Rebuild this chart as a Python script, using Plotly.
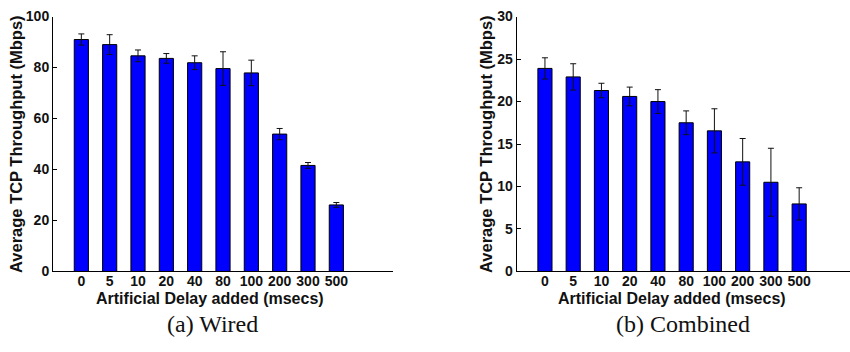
import plotly.graph_objects as go

delays = ["0", "5", "10", "20", "40", "80", "100", "200", "300", "500"]
positions = [1, 2, 3, 4, 5, 6, 7, 8, 9, 10]

wired_mean = [91.0, 89.0, 84.6, 83.6, 81.9, 79.6, 77.9, 53.9, 41.6, 26.1]
wired_err = [2.2, 3.9, 2.3, 1.9, 2.7, 6.6, 5.0, 2.2, 1.15, 0.95]

comb_mean = [23.9, 22.9, 21.3, 20.6, 20.0, 17.5, 16.55, 12.9, 10.5, 7.95]
comb_err = [1.25, 1.55, 0.85, 1.1, 1.4, 1.4, 2.6, 2.75, 4.0, 1.9]

wired_ticks = [0, 20, 40, 60, 80, 100]
comb_ticks = [0, 5, 10, 15, 20, 25, 30]

BLUE = "#0000FF"
SANS = "Liberation Sans"
SERIF = "Liberation Serif"
INK = "#111111"

fig = go.Figure()

fig.add_trace(go.Bar(
    x=positions, y=wired_mean, width=0.5,
    marker=dict(color=BLUE, line=dict(color="black", width=1)),
    error_y=dict(type="data", array=wired_err, color=INK, thickness=1, width=3),
    xaxis="x", yaxis="y", showlegend=False,
))
fig.add_trace(go.Bar(
    x=positions, y=comb_mean, width=0.5,
    marker=dict(color=BLUE, line=dict(color="black", width=1)),
    error_y=dict(type="data", array=comb_err, color=INK, thickness=1, width=3),
    xaxis="x2", yaxis="y2", showlegend=False,
))

ydom = [1 - 276 / 352, 1 - 9 / 352]
tickfont = dict(family=SANS, size=14, color=INK)
bold_delays = ["<b>%s</b>" % d for d in delays]

common_x = dict(
    tickmode="array", tickvals=positions, ticktext=bold_delays, ticks="",
    showline=True, linecolor="black", linewidth=1, showgrid=False, zeroline=False,
    tickfont=tickfont, ticklabelstandoff=-3,
)
common_y = dict(
    showline=True, linecolor="black", linewidth=1, showgrid=False, zeroline=False,
    ticks="inside", ticklen=4, tickcolor="black", tickfont=tickfont, tickmode="array",
)

fig.update_layout(
    width=850, height=352,
    margin=dict(l=0, r=0, t=0, b=0),
    paper_bgcolor="white", plot_bgcolor="white",
    xaxis=dict(domain=[53 / 850, 393 / 850], range=[0, 12], anchor="y", **common_x),
    yaxis=dict(domain=ydom, range=[0, 100], tickvals=wired_ticks,
               ticktext=["<b>%d</b>" % v for v in wired_ticks], anchor="x", **common_y),
    xaxis2=dict(domain=[516.7 / 850, 1.0], range=[0, 11.8], anchor="y2", **common_x),
    yaxis2=dict(domain=ydom, range=[0, 30], tickvals=comb_ticks,
                ticktext=["<b>%d</b>" % v for v in comb_ticks], anchor="x2", **common_y),
)

xtitle = "<b>Artificial Delay added (msecs)</b>"
ytitle = "<b>Average TCP Throughput (Mbps)</b>"
ann = []
for cx, capx, caption, yx in [(210, 212, "(a) Wired", 16), (672, 683, "(b) Combined", 486)]:
    ann.append(dict(text=xtitle, x=cx / 850, xref="paper", y=1 - 304 / 352, yref="paper",
                    showarrow=False, xanchor="center", yanchor="middle",
                    font=dict(family=SANS, size=16, color=INK)))
    ann.append(dict(text=ytitle, x=yx / 850, xref="paper", y=(ydom[0] + ydom[1]) / 2, yref="paper",
                    showarrow=False, xanchor="center", yanchor="middle", textangle=-90,
                    font=dict(family=SANS, size=16.5, color=INK)))
    ann.append(dict(text=caption, x=capx / 850, xref="paper", y=1 - 331 / 352, yref="paper",
                    showarrow=False, xanchor="center", yanchor="middle",
                    font=dict(family=SERIF, size=24, color=INK)))
fig.update_layout(annotations=ann)

fig.write_html("out.html")
